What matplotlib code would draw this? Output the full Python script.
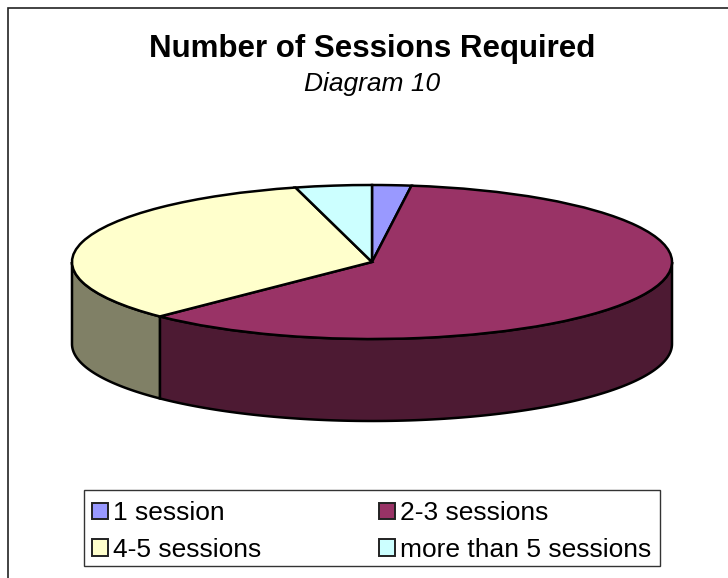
import numpy as np
import matplotlib
matplotlib.use('Agg')
import matplotlib.pyplot as plt
from matplotlib.colors import to_rgb
from matplotlib.patches import Rectangle, Patch

plt.rcParams['font.family'] = ['Liberation Sans', 'DejaVu Sans']

labels = ['1 session', '2-3 sessions', '4-5 sessions', 'more than 5 sessions']
values = [2.1, 60.4, 33.4, 4.1]
colors = ['#9999FF', '#993366', '#FFFFCC', '#CCFFFF']

W, H = 728, 578
DEPTH = 82 / 77  # pie height in units of the squashed radius

fig = plt.figure(figsize=(W / 100, H / 100), dpi=100, facecolor='white')

# chart border, only left and top fall inside the figure
fig.add_artist(Rectangle((8 / W, -0.1), 1.1, 1.1 - 8 / H, transform=fig.transFigure,
                         facecolor='none', edgecolor='#222222', linewidth=1.2))

fig.text(372 / W, 1 - 49 / H, 'Number of Sessions Required', ha='center', va='center',
         fontsize=22.5, fontweight='bold', color='black')
fig.text(372 / W, 1 - 84 / H, 'Diagram 10', ha='center', va='center',
         fontsize=19, fontstyle='italic', color='black')

ax = fig.add_axes([72 / W, 1 - 339 / H, 600 / W, 154 / H])
wedges, _ = ax.pie(values, startangle=90, counterclock=False, colors=colors,
                   wedgeprops={'edgecolor': 'black', 'linewidth': 1.8, 'zorder': 3})
ax.set_aspect('auto')
ax.set_xlim(-1, 1)
ax.set_ylim(-1, 1)
ax.axis('off')
for w in wedges:
    w.set_clip_on(False)

# side wall: the front half of the rim, pushed down by DEPTH
edges = np.cumsum([0] + values) / sum(values) * 360
for start, end, col in zip(edges[:-1], edges[1:], colors):
    a, b = max(start, 90), min(end, 270)
    if a >= b:
        continue
    t = np.radians(np.linspace(a, b, 120))
    x, y = np.sin(t), np.cos(t)
    dark = tuple(c * 0.5 for c in to_rgb(col))
    ax.fill(np.r_[x, x[::-1]], np.r_[y, y[::-1] - DEPTH], facecolor=dark,
            edgecolor='black', linewidth=1.8, clip_on=False, zorder=2)

# legend frame is separate so the rows can sit low inside it
fig.add_artist(Rectangle((84 / W, 1 - 566 / H), 576 / W, 76 / H, transform=fig.transFigure,
                         facecolor='white', edgecolor='#333333', linewidth=1.0))

handles = [Patch(facecolor=c, edgecolor='#222222', linewidth=1.4) for c in colors]
# row-wise order, so swap to fill the columns
order = [0, 2, 1, 3]
leg = fig.legend([handles[i] for i in order], [labels[i] for i in order], ncol=2,
                 loc='lower left', bbox_to_anchor=(84 / W, 1 - 570 / H), borderaxespad=0,
                 fontsize=19, frameon=False,
                 handlelength=0.6, handleheight=0.6, handletextpad=0.2,
                 columnspacing=4.45, labelspacing=0.48, borderpad=0.3)
leg.set_zorder(5)

fig.savefig('out.png', dpi=100)
